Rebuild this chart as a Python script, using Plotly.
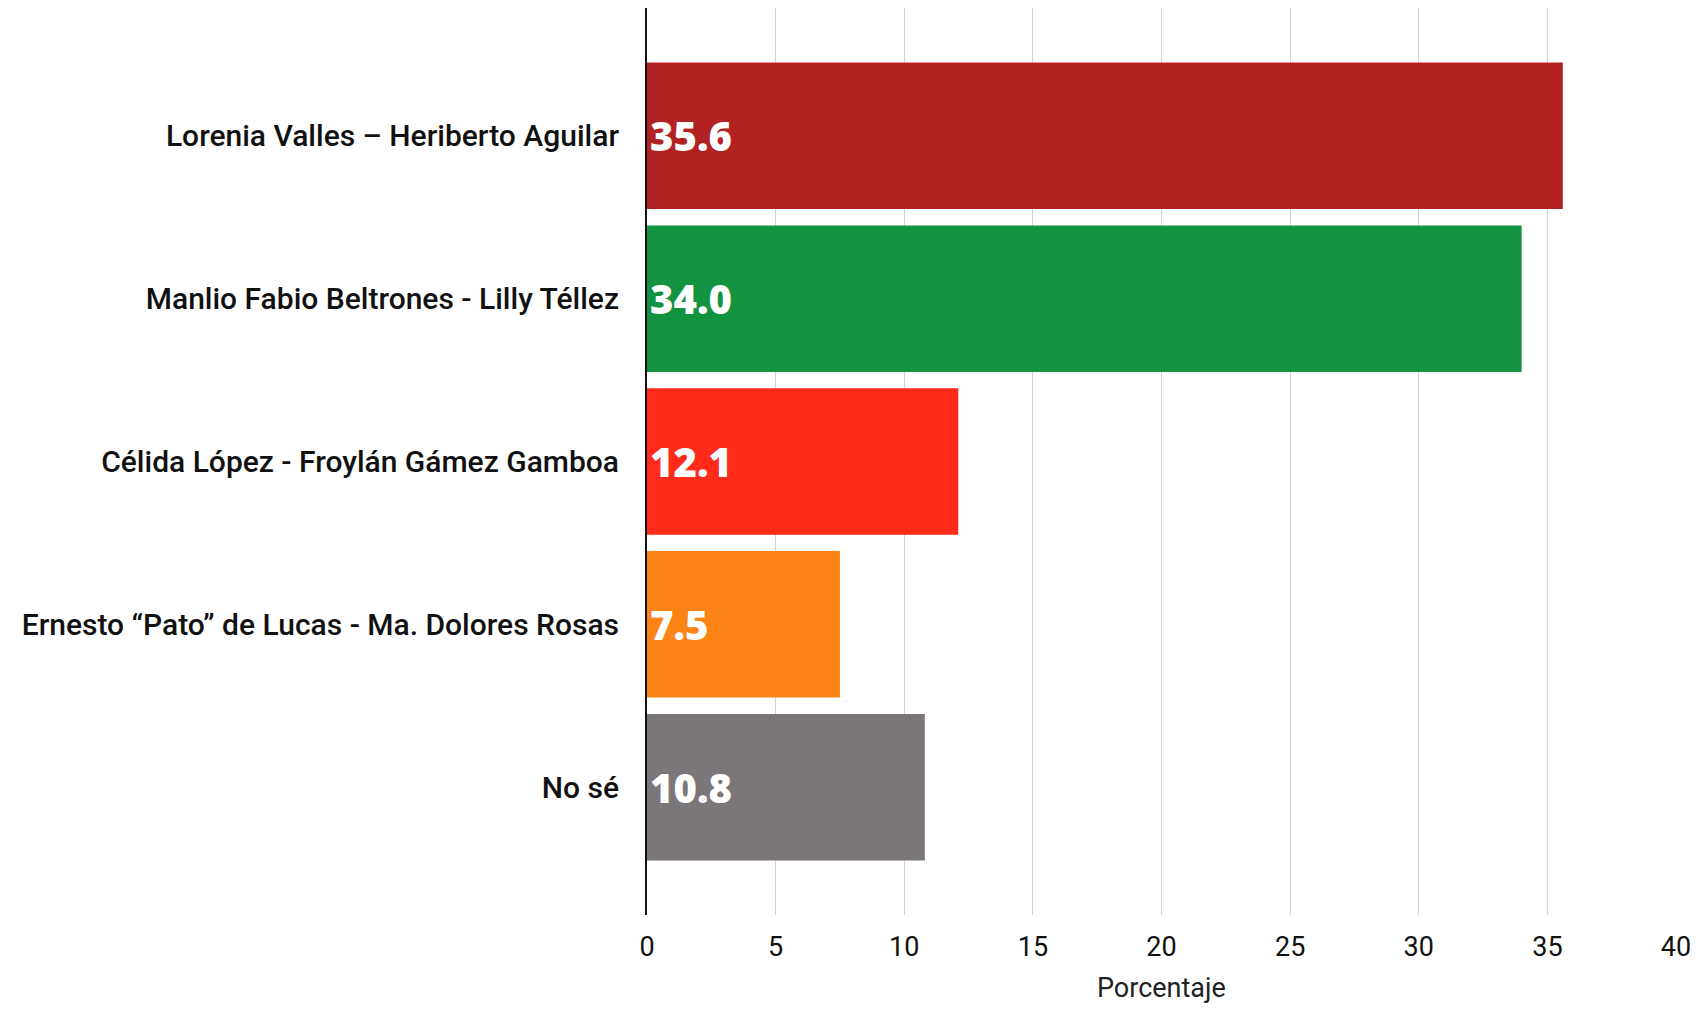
import plotly.graph_objects as go

categories = [
    "Lorenia Valles – Heriberto Aguilar",
    "Manlio Fabio Beltrones - Lilly Téllez",
    "Célida López - Froylán Gámez Gamboa",
    "Ernesto “Pato” de Lucas - Ma. Dolores Rosas",
    "No sé",
]
values = [35.6, 34.0, 12.1, 7.5, 10.8]
colors = ["#B22222", "#139240", "#FE2A1A", "#FC8316", "#7B7679"]
x_ticks = [0, 5, 10, 15, 20, 25, 30, 35, 40]

fig = go.Figure(go.Bar(
    y=categories,
    x=values,
    orientation="h",
    marker=dict(color=colors, line=dict(width=0)),
    width=0.9,
    text=[f"{v:.1f}" for v in values],
    textposition="inside",
    insidetextanchor="start",
    constraintext="none",
    textfont=dict(family="Open Sans", size=40, color="white", weight=800),
    cliponaxis=False,
))

fig.update_layout(
    width=1682, height=996,
    margin=dict(l=639, r=14, t=0, b=89),
    plot_bgcolor="white", paper_bgcolor="white",
    showlegend=False,
    bargap=0.1,
    font=dict(family="Roboto", color="#111111"),
    annotations=[dict(
        text="Porcentaje", xref="paper", yref="paper", x=0.5, y=0,
        xanchor="center", yanchor="top", yshift=-56, showarrow=False,
        borderpad=0,
        font=dict(family="Roboto", size=27, color="#222222"),
    )],
)
fig.update_xaxes(
    range=[0, 40],
    tickvals=x_ticks,
    showgrid=True, gridcolor="#D3D3D3", gridwidth=1,
    zeroline=False,
    showline=False,
    ticks="outside", ticklen=8, tickcolor="rgba(0,0,0,0)",
    ticklabeloverflow="allow",
    tickfont=dict(family="Roboto", size=27, color="#111111"),
)
fig.update_yaxes(
    autorange=False,
    range=[4.785, -0.785],
    type="category",
    categoryorder="array", categoryarray=categories,
    showgrid=False,
    showline=True, linecolor="#111111", linewidth=2,
    ticks="outside", ticklen=20, tickcolor="rgba(0,0,0,0)",
    tickfont=dict(family="Roboto", size=30, color="#111111", weight=500),
)

fig.write_html("out.html")
